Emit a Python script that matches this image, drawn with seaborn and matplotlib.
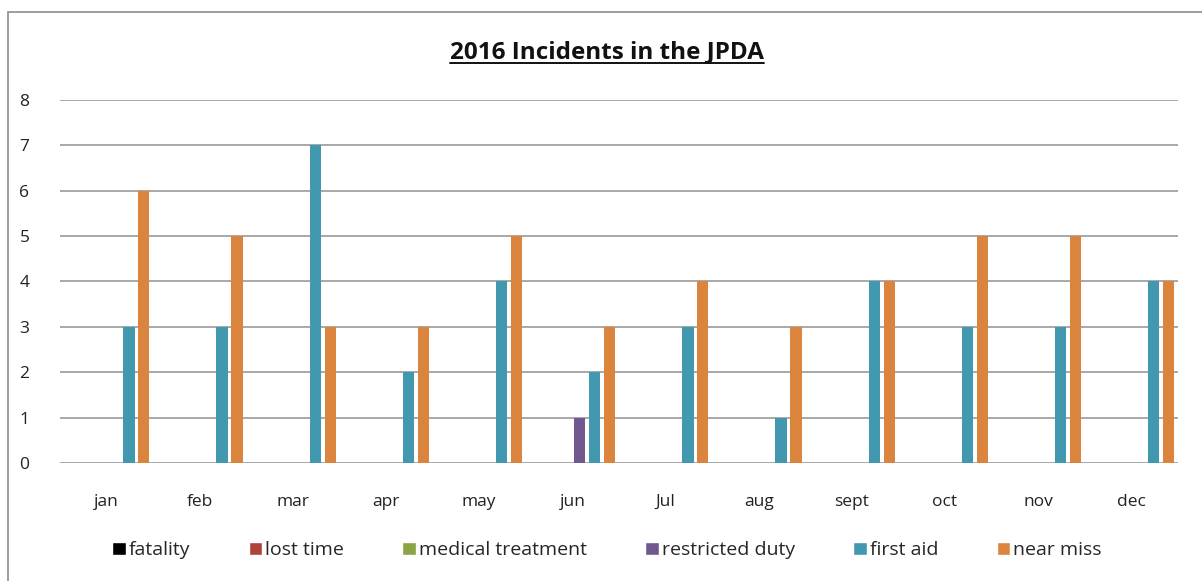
import pandas as pd
import seaborn as sns
import matplotlib.pyplot as plt
from matplotlib.lines import Line2D
from matplotlib.patches import Rectangle

months = ["jan", "feb", "mar", "apr", "may", "jun", "Jul", "aug", "sept", "oct", "nov", "dec"]
series = ["fatality", "lost time", "medical treatment", "restricted duty", "first aid", "near miss"]
fatality = [0, 0, 0, 0, 0, 0, 0, 0, 0, 0, 0, 0]
lost_time = [0, 0, 0, 0, 0, 0, 0, 0, 0, 0, 0, 0]
medical_treatment = [0, 0, 0, 0, 0, 0, 0, 0, 0, 0, 0, 0]
restricted_duty = [0, 0, 0, 0, 0, 1, 0, 0, 0, 0, 0, 0]
first_aid = [3, 3, 7, 2, 4, 2, 3, 1, 4, 3, 3, 4]
near_miss = [6, 5, 3, 3, 5, 3, 4, 3, 4, 5, 5, 4]
colors = ["#000000", "#B0413E", "#8BA446", "#71588F", "#4198AF", "#DB843D"]

values = [fatality, lost_time, medical_treatment, restricted_duty, first_aid, near_miss]
df = pd.DataFrame({
    "month": months * len(series),
    "type": [s for s in series for _ in months],
    "count": [v for vals in values for v in vals],
})

sns.set_style("white")
plt.rcParams["font.family"] = ["Open Sans", "DejaVu Sans"]

fig = plt.figure(figsize=(12.02, 5.81), dpi=100)
ax = fig.add_axes([0.0499, 0.203, 0.9301, 0.625])

sns.barplot(data=df, x="month", y="count", hue="type", hue_order=series,
            order=months, palette=colors, width=0.96, gap=0.25,
            saturation=1, linewidth=0, ax=ax, legend=False)

ax.set_ylim(0, 8)
ax.set_xlim(-0.5, 11.5)
ax.set_yticks(range(9))
ax.yaxis.grid(True, color="#999999", linewidth=1.2)
ax.set_axisbelow(True)
for s in ax.spines.values():
    s.set_visible(False)
ax.tick_params(axis="both", length=0, labelsize=12.5, colors="#222222")
ax.tick_params(axis="y", pad=22)
ax.tick_params(axis="x", pad=22)
ax.set_xlabel("")
ax.set_ylabel("")

title = fig.text(0.5047, 0.91, "2016 Incidents in the JPDA", ha="center", va="center",
                 fontsize=17.5, fontweight="bold", color="#111111")
fig.canvas.draw()
bb = title.get_window_extent().transformed(fig.transFigure.inverted())
fig.add_artist(Line2D([bb.x0, bb.x1], [bb.y0 + 0.002, bb.y0 + 0.002],
                      transform=fig.transFigure, color="#111111", linewidth=1.4))

handles = [Rectangle((0, 0), 1, 1, facecolor=c) for c in colors]
fig.legend(handles, series, loc="center", bbox_to_anchor=(0.505, 0.053), ncol=6,
           frameon=False, fontsize=14, handlelength=0.7, handleheight=0.7,
           handletextpad=0.15, columnspacing=3.0)

fig.add_artist(Rectangle((0.007, -0.01), 1.0, 0.99, transform=fig.transFigure,
                         fill=False, edgecolor="#8c8c8c", linewidth=1.2))

fig.savefig("out.png", dpi=100, facecolor="white")
